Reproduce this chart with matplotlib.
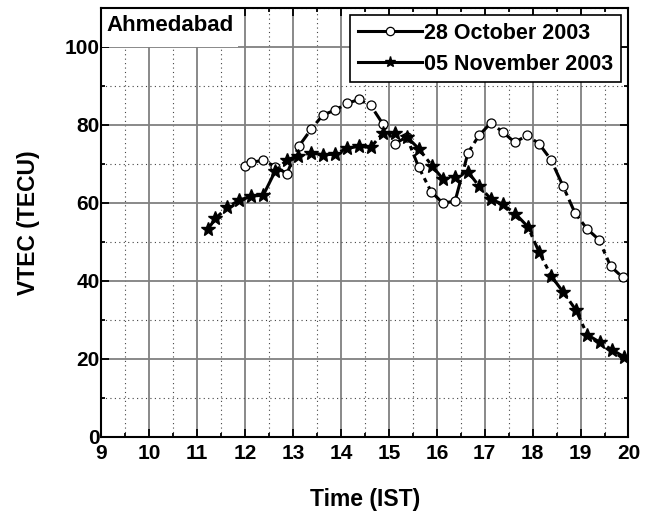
import matplotlib
matplotlib.use("Agg")
import matplotlib.pyplot as plt
from matplotlib.lines import Line2D
from matplotlib.patches import Rectangle
from matplotlib.ticker import MultipleLocator

# 28 October 2003 (open circles)
oct_time = [12.0, 12.12, 12.38, 12.63, 12.87, 13.12, 13.38, 13.62, 13.88, 14.13,
            14.37, 14.62, 14.88, 15.13, 15.37, 15.62, 15.88, 16.12, 16.38, 16.65,
            16.88, 17.13, 17.38, 17.63, 17.88, 18.13, 18.38, 18.63, 18.88, 19.13,
            19.38, 19.63, 19.88]
oct_vtec = [69.4, 70.4, 70.9, 69.3, 67.5, 74.5, 78.9, 82.5, 83.8, 85.5,
            86.5, 85.0, 80.1, 75.2, 76.9, 69.2, 62.9, 60.0, 60.4, 72.8,
            77.3, 80.5, 78.1, 75.5, 77.3, 75.2, 71.1, 64.4, 57.5, 53.4,
            50.6, 43.7, 40.9]

# 05 November 2003 (filled stars)
nov_time = [11.22, 11.38, 11.63, 11.88, 12.13, 12.38, 12.63, 12.87, 13.11, 13.38,
            13.63, 13.88, 14.13, 14.38, 14.62, 14.88, 15.13, 15.37, 15.63, 15.9,
            16.13, 16.38, 16.65, 16.88, 17.13, 17.38, 17.64, 17.9, 18.13, 18.39,
            18.64, 18.9, 19.14, 19.4, 19.65, 19.9]
nov_vtec = [53.2, 56.0, 58.9, 60.7, 61.7, 62.0, 68.2, 71.0, 72.1, 72.8,
            72.3, 72.5, 74.0, 74.5, 74.2, 78.0, 78.0, 77.0, 73.8, 69.5,
            66.1, 66.7, 68.0, 64.3, 61.0, 59.6, 57.2, 53.9, 47.5, 41.2,
            37.1, 32.6, 26.2, 24.3, 22.4, 20.6]

plt.rcParams['font.family'] = ['Liberation Sans', 'DejaVu Sans']
plt.rcParams['font.weight'] = 'bold'

fig = plt.figure(figsize=(6.54, 5.19), dpi=100)
ax = fig.add_axes([0.155, 0.158, 0.806, 0.827])

dash = (0, (7, 1.5, 1.5, 1.5))
ax.plot(oct_time, oct_vtec, color='black', lw=2.2, linestyle=dash, marker='o',
        ms=6.5, mfc='white', mec='black', mew=0.9, zorder=3)
ax.plot(nov_time, nov_vtec, color='black', lw=2.2, linestyle=dash, marker='*',
        ms=10, mfc='black', mec='black', zorder=4)

ax.set_xlim(9, 20)
ax.set_ylim(0, 110)
ax.xaxis.set_major_locator(MultipleLocator(1))
ax.xaxis.set_minor_locator(MultipleLocator(0.5))
ax.yaxis.set_minor_locator(MultipleLocator(10))
ax.set_yticks([0, 20, 40, 60, 80, 100])

ax.grid(which='major', color='#808080', lw=1.3, linestyle='-', zorder=0)
ax.grid(which='minor', color='#444444', lw=0.8, linestyle=(0, (1, 3)), zorder=0)
ax.set_axisbelow(True)

ax.tick_params(which='both', direction='in', top=True, right=True, width=1.3)
ax.tick_params(which='major', length=6, labelsize=15)
ax.tick_params(axis='y', which='major', pad=1)
ax.tick_params(axis='x', which='major', pad=5)
ax.tick_params(which='minor', length=3)
for s in ax.spines.values():
    s.set_linewidth(1.5)

ax.set_xlabel('Time (IST)', fontsize=16.5, fontweight='bold', labelpad=18)
ax.set_ylabel('VTEC (TECU)', fontsize=16.5, fontweight='bold', labelpad=18)

# white patch behind station name
ax.add_patch(Rectangle((9, 100), 2.85, 10, facecolor='white', edgecolor='none',
                       zorder=1.5))
ax.text(9.1, 105.5, 'Ahmedabad', fontsize=16, fontweight='bold', va='center',
        ha='left', zorder=5)

handles = [
    Line2D([], [], color='black', lw=2.2, marker='o', ms=6, mfc='white', mec='black', mew=0.9),
    Line2D([], [], color='black', lw=2.2, marker='*', ms=8, mfc='black', mec='black'),
]
leg = ax.legend(handles, ['28 October 2003', '05 November 2003'], loc='upper right',
                fontsize=15.5, frameon=True, fancybox=False, framealpha=1,
                edgecolor='black', handlelength=3.0, handletextpad=0.1,
                borderpad=0.35, labelspacing=0.45, borderaxespad=0.35)
leg.get_frame().set_linewidth(1.2)
leg.set_zorder(6)

fig.savefig('out.png', dpi=100)
